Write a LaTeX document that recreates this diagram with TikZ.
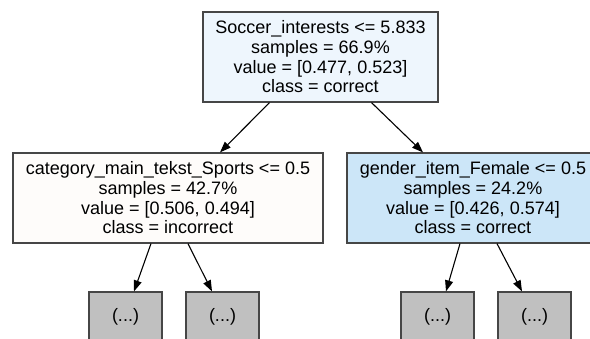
\documentclass[tikz,border=0pt]{standalone}
\usepackage{fontspec}
\setmainfont{Liberation Sans}
\usetikzlibrary{arrows.meta}
\definecolor{ink}{RGB}{70,70,70}
\definecolor{cRoot}{RGB}{238,246,253}
\definecolor{cInc}{RGB}{254,252,250}
\definecolor{cCor}{RGB}{204,230,248}
\definecolor{cTrunc}{RGB}{192,192,192}

\begin{document}
\begin{tikzpicture}[
  x=1pt, y=-1pt,
  >={Triangle[length=11pt, width=8pt]},
  split/.style={draw=ink, line width=1.2pt, align=center, inner sep=0pt, minimum height=90pt, font=\fontsize{18}{19.7}\selectfont},
  trunc/.style={draw=ink, line width=1.2pt, fill=cTrunc, minimum width=73pt, minimum height=50pt, font=\fontsize{18}{19.7}\selectfont},
  link/.style={->, line width=1.1pt},
]
\useasboundingbox (0,0) rectangle (590,338);
\clip (0,0) rectangle (590,338);

% ---- root split ----
\node[split, fill=cRoot, minimum width=235pt] (root) at (320.5,57) {%
  Soccer\_interests <= 5.833\\
  samples = 66.9\%\\
  value = [0.477, 0.523]\\
  class = correct};

% ---- second level ----
\node[split, fill=cInc, minimum width=310pt] (sports) at (168,198) {%
  category\_main\_tekst\_Sports <= 0.5\\
  samples = 42.7\%\\
  value = [0.506, 0.494]\\
  class = incorrect};

\node[split, fill=cCor, minimum width=252pt] (female) at (473,198) {%
  gender\_item\_Female <= 0.5\\
  samples = 24.2\%\\
  value = [0.426, 0.574]\\
  class = correct};

% ---- truncated leaves ----
\node[trunc] (t1) at (125.5,317) {(...)};
\node[trunc] (t2) at (222.5,317) {(...)};
\node[trunc] (t3) at (437.5,317) {(...)};
\node[trunc] (t4) at (534.5,317) {(...)};

% ---- edges ----
\draw[link] ([xshift=-51pt]root.south) -- ([xshift=52pt]sports.north);
\draw[link] ([xshift=51pt]root.south) -- ([xshift=-50pt]female.north);
\draw[link] ([xshift=-17pt]sports.south) -- ([xshift=8.5pt]t1.north);
\draw[link] ([xshift=20pt]sports.south) -- ([xshift=-10.5pt]t2.north);
\draw[link] ([xshift=-13pt]female.south) -- ([xshift=8.5pt]t3.north);
\draw[link] ([xshift=24pt]female.south) -- ([xshift=-12.5pt]t4.north);

\end{tikzpicture}
\end{document}
